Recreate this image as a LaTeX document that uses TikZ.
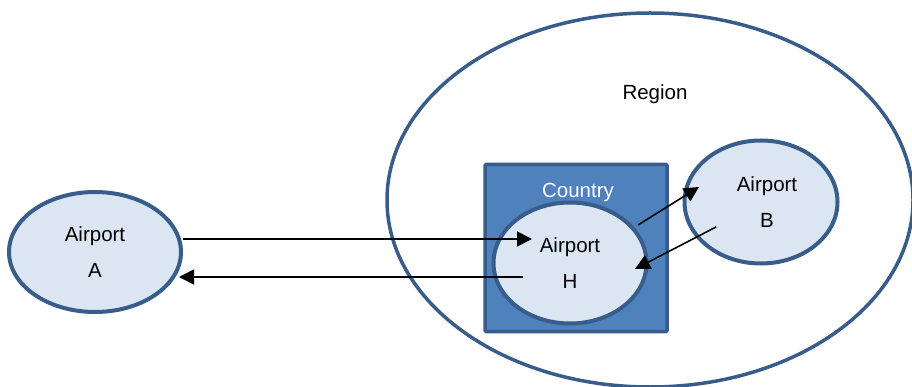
\documentclass[tikz,border=0pt]{standalone}
\usepackage{fontspec}
\setmainfont{Liberation Sans}
\usetikzlibrary{shapes.geometric,arrows.meta,calc}
\definecolor{rim}{HTML}{385D8A}
\definecolor{pale}{HTML}{DCE6F2}
\definecolor{mid}{HTML}{4F81BD}
\begin{document}
\begin{tikzpicture}[x=1pt,y=-1pt,
  every node/.style={font=\fontsize{20.5}{36}\selectfont},
  apt/.style={ellipse,draw=rim,fill=pale,line width=4pt,inner sep=0pt,align=center},
  link/.style={line width=1.6pt,-{Triangle[length=15pt,width=15pt]}}]
  \useasboundingbox (0,0) rectangle (912,387);
  % the region around the hub
  \node[ellipse,draw=rim,line width=3.5pt,minimum width=526pt,minimum height=374pt,inner sep=0pt] (region) at (650,200) {};
  \node (regionlbl) at (655,94) {Region};
  % the country box
  \node[draw=rim,fill=mid,line width=3.5pt,rounded corners=1pt,minimum width=182pt,minimum height=167pt,inner sep=0pt] (country) at (576,248) {};
  \node[text=white] (countrylbl) at (578,192) {Country};
  % airports
  \node[apt,minimum width=153pt,minimum height=121pt] (H) at (570,263) {Airport\\H};
  \node[apt,minimum width=153pt,minimum height=123pt] (B) at (761,202) {\hspace*{12pt}Airport\\\hspace*{12pt}B};
  \node[apt,minimum width=172pt,minimum height=120pt] (A) at (95,252) {Airport\\A};
  % flights
  \coordinate (aout) at ($(A.center)+(88,-13)$);
  \coordinate (hin)  at ($(H.center)+(-38,-24)$);
  \coordinate (hout) at ($(H.center)+(-47,14)$);
  \coordinate (ain)  at ($(A.center)+(84,25)$);
  \coordinate (hne)  at ($(H.center)+(68,-38)$);
  \coordinate (bin)  at ($(B.center)+(-62,-15)$);
  \coordinate (bout) at ($(B.center)+(-45,25)$);
  \coordinate (hse)  at ($(H.center)+(65,6)$);
  \draw[link] (aout) -- (hin);
  \draw[link] (hout) -- (ain);
  \draw[link] (hne) -- (bin);
  \draw[link] (bout) -- (hse);
\end{tikzpicture}
\end{document}
